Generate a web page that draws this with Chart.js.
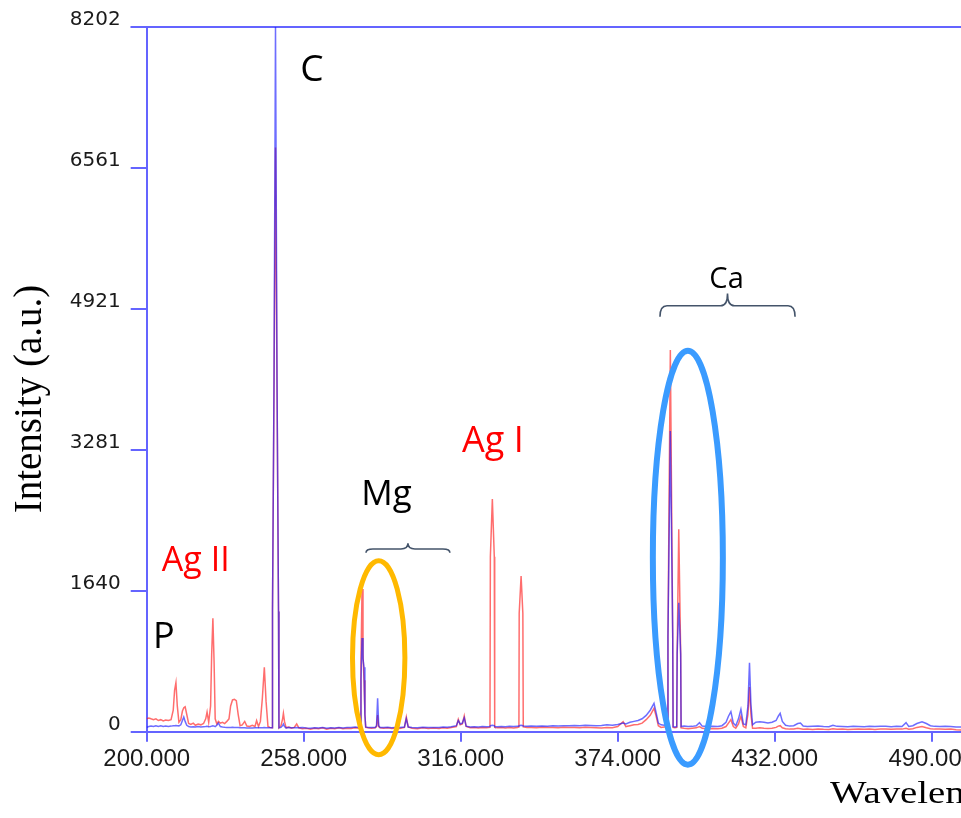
<!DOCTYPE html>
<html>
<head>
<meta charset="utf-8">
<script src="https://cdn.jsdelivr.net/npm/chart.js@4.4.0/dist/chart.umd.min.js"></script>
<style>
  html, body { margin: 0; padding: 0; background: #ffffff; }
  #wrap { width: 961px; height: 818px; position: relative; overflow: hidden; }
</style>
</head>
<body>
<div id="wrap"><canvas id="c" width="961" height="818"></canvas></div>
<script>
// ---------- data ----------
const wavelengthNm = [
  200.0,200.8,201.6,202.5,203.4,204.3,205.2,206.1,207.0,208.0,209.0,209.8,210.3,210.8,211.3,211.9,
  212.6,213.2,213.7,214.2,214.8,215.5,216.3,217.2,218.0,219.0,220.0,221.0,221.8,222.3,222.9,223.6,
  224.0,224.45,224.9,225.3,225.9,226.5,227.2,228.0,228.8,229.6,230.4,231.0,231.7,232.4,233.1,233.8,
  234.5,235.3,236.2,237.0,238.0,239.0,240.0,240.6,241.3,242.0,242.7,243.45,244.1,244.8,245.5,246.3,
  246.47,247.03,247.58,248.14,248.69,248.85,249.6,250.2,250.5,250.9,251.5,252.5,253.5,254.5,255.4,256.2,
  257.5,259.0,260.5,262.0,263.5,265.0,266.5,268.0,269.5,271.0,272.5,274.0,275.5,277.0,278.3,278.8,
  279.15,279.55,279.9,280.27,280.6,280.9,281.8,283.0,284.4,284.9,285.3,285.7,286.2,287.5,289.0,290.5,
  292.0,293.5,295.2,295.9,296.6,298.0,300.0,302.0,304.0,306.0,308.0,309.5,311.0,312.5,314.4,315.1,
  315.8,316.6,317.3,318.0,319.5,321.0,322.5,324.0,325.5,326.8,326.95,327.68,328.4,328.55,329.5,331.0,
  332.5,334.0,335.5,337.0,337.5,337.6,338.3,338.95,339.1,340.5,342.0,344.0,346.0,348.0,350.0,352.0,
  354.0,356.0,358.0,360.0,362.0,364.0,366.0,368.0,370.0,372.0,374.0,376.0,377.0,378.5,380.0,381.5,
  383.0,384.5,386.0,387.4,388.2,389.0,390.0,391.2,392.3,392.55,393.43,394.3,394.45,395.1,395.8,395.95,
  396.54,397.25,397.4,398.5,400.0,401.5,403.0,404.2,405.2,407.0,409.0,411.0,412.5,414.0,414.9,415.8,
  416.7,417.6,418.6,419.5,420.4,421.3,422.1,422.67,423.2,423.8,425.0,426.5,428.0,429.5,431.0,432.5,
  433.3,434.0,434.8,436.0,437.5,439.0,440.5,441.5,442.5,444.0,446.0,448.0,450.0,452.0,453.5,455.0,
  457.0,459.0,461.0,463.0,465.0,467.0,469.0,471.0,473.0,475.0,477.0,479.0,480.5,481.5,483.0,484.5,
  486.4,488.0,489.5,491.0,493.0,495.0,497.0,499.0,500.8
];
const redIntensity = [
  150,160,150,140,150,130,140,125,135,130,140,250,480,570,300,110,
  140,240,280,290,200,95,85,100,75,90,80,95,150,230,110,300,
  900,1320,800,150,90,120,100,110,95,120,150,300,370,377,360,200,
  70,80,120,65,60,75,60,128,60,120,380,750,350,60,50,45,
  1400,4000,6800,4000,1400,45,70,150,214,120,45,55,40,50,90,45,
  35,40,30,40,35,45,30,40,35,45,35,40,38,45,40,60,
  800,1660,900,600,200,50,45,40,45,60,194,60,45,40,45,38,
  42,38,50,170,55,40,35,45,38,42,36,45,40,50,60,144,
  80,90,183,60,45,48,42,50,45,50,2036,2709,2036,50,45,50,
  42,48,44,50,55,1378,1812,1378,55,48,50,45,52,48,50,46,
  52,48,50,45,52,48,45,42,50,45,60,116,60,70,80,85,
  100,140,190,272,180,70,50,55,60,1100,4443,1150,50,45,50,900,
  2356,900,45,40,35,40,45,60,40,35,38,35,40,60,100,140,
  60,40,90,180,60,45,200,520,200,40,40,45,40,38,40,50,
  65,70,45,35,30,32,40,35,28,30,25,32,28,26,35,28,
  30,25,28,32,28,30,26,32,30,28,32,30,40,30,35,50,
  60,45,35,30,32,28,30,22,20
];
const blueIntensity = [
  50,60,65,60,70,62,68,60,66,62,65,70,70,72,70,68,
  80,130,170,120,75,60,55,58,55,60,55,58,60,62,58,60,
  65,70,65,60,75,100,60,55,52,50,50,50,52,50,50,48,
  45,45,45,44,44,44,45,45,45,46,46,48,47,45,45,45,
  1400,4100,8202,4100,1400,45,50,70,90,60,45,50,45,45,50,45,
  48,42,40,45,42,48,40,46,42,50,44,48,50,55,50,60,
  600,1090,850,750,200,55,50,48,50,70,389,70,50,48,52,46,
  50,48,55,150,55,48,45,52,50,48,50,55,52,58,70,130,
  90,100,160,65,55,58,55,60,58,60,70,75,70,62,58,60,
  58,62,60,64,64,70,75,70,65,62,65,62,66,64,68,65,
  70,68,72,70,75,72,70,72,80,75,85,100,90,110,120,130,
  150,190,250,330,220,100,80,75,80,1100,3500,1150,60,55,60,900,
  1500,900,60,65,60,62,70,105,65,60,62,60,70,110,180,233,
  100,70,150,260,90,80,300,803,320,80,110,115,110,100,110,130,
  180,214,120,75,65,70,95,100,65,60,62,65,60,58,75,62,
  60,58,62,60,58,62,60,64,62,58,62,60,105,62,70,95,
  116,95,70,62,60,62,60,56,55
];
const xTickValues = [200, 258, 316, 374, 432, 490];
const yTickValues = [0, 1640.4, 3280.8, 4921.2, 6561.6, 8202];
const yTickLabels = ['0', '1640', '3281', '4921', '6561', '8202'];
const xRange = [200, 500.8];
const yRange = [0, 8202];

// annotation texts placed in data coordinates
const annotationTexts = [
  { text: 'C',     nm: 256.7, value: 7570, color: '#000000', size: 37 },
  { text: 'P',     nm: 202.3, value: 974,  color: '#000000', size: 36 },
  { text: 'Ag II', nm: 205.6, value: 1873, color: '#ff0000', size: 34 },
  { text: 'Mg',    nm: 279.3, value: 2637, color: '#000000', size: 35 },
  { text: 'Ag I',  nm: 316.5, value: 3257, color: '#ff0000', size: 36 },
  { text: 'Ca',    nm: 414.2, value: 5162, color: '#000000', size: 29, center: true }
];
const braces = [
  { from: 281.0, to: 312.0, endValue: 2083, lineValue: 2126, tipValue: 2192 },
  { from: 389.6, to: 439.5, endValue: 4829, lineValue: 4957, tipValue: 5101 }
];
const ellipses = [
  { nm: 285.7, value: 861,  rNm: 9.68,  rValue: 1129, color: '#FFB900', width: 5 },
  { nm: 399.9, value: 2025, rNm: 12.93, rValue: 2409, color: '#3A9BFF', width: 6 }
];

// ---------- styles ----------
const axisColor = '#6464ff';

const decorPlugin = {
  id: 'decor',
  beforeDatasetsDraw(chart) {
    const { ctx, chartArea } = chart;
    ctx.save();
    ctx.strokeStyle = axisColor;
    ctx.lineWidth = 2;
    ctx.beginPath();
    ctx.moveTo(chartArea.left - 16, chartArea.top);
    ctx.lineTo(chart.width, chartArea.top);
    ctx.stroke();
    ctx.restore();
  },
  afterDatasetsDraw(chart) {
    const { ctx, scales: { x, y } } = chart;
    ctx.save();
    // braces
    ctx.strokeStyle = '#44546A';
    ctx.lineWidth = 1.6;
    braces.forEach(b => {
      const x0 = x.getPixelForValue(b.from), x1 = x.getPixelForValue(b.to);
      const xm = (x0 + x1) / 2;
      const ye = y.getPixelForValue(b.endValue), yl = y.getPixelForValue(b.lineValue), yt = y.getPixelForValue(b.tipValue);
      const r = 7;
      ctx.beginPath();
      ctx.moveTo(x0, ye);
      ctx.quadraticCurveTo(x0, yl, x0 + r, yl);
      ctx.lineTo(xm - r, yl);
      ctx.quadraticCurveTo(xm, yl, xm, yt);
      ctx.quadraticCurveTo(xm, yl, xm + r, yl);
      ctx.lineTo(x1 - r, yl);
      ctx.quadraticCurveTo(x1, yl, x1, ye);
      ctx.stroke();
    });
    // ellipses
    ellipses.forEach(e => {
      const cx = x.getPixelForValue(e.nm), cy = y.getPixelForValue(e.value);
      const rx = Math.abs(x.getPixelForValue(e.nm + e.rNm) - cx);
      const ry = Math.abs(y.getPixelForValue(e.value + e.rValue) - cy);
      ctx.strokeStyle = e.color;
      ctx.lineWidth = e.width;
      ctx.beginPath();
      ctx.ellipse(cx, cy, rx, ry, 0, 0, Math.PI * 2);
      ctx.stroke();
    });
    // labels
    ctx.textBaseline = 'alphabetic';
    annotationTexts.forEach(t => {
      ctx.font = t.size + 'px "Open Sans"';
      ctx.fillStyle = t.color;
      ctx.textAlign = t.center ? 'center' : 'left';
      ctx.fillText(t.text, x.getPixelForValue(t.nm), y.getPixelForValue(t.value));
    });
    // axis titles
    ctx.fillStyle = '#000000';
    ctx.save();
    ctx.translate(830, 803);
    ctx.scale(1.25, 1);
    ctx.font = '31px "Liberation Serif", "Times New Roman", serif';
    ctx.textAlign = 'left';
    ctx.fillText('Wavelength (nm)', 0, 0);
    ctx.restore();
    ctx.save();
    ctx.translate(31, 399);
    ctx.rotate(-Math.PI / 2);
    ctx.font = '39px "Liberation Serif", "Times New Roman", serif';
    ctx.textAlign = 'center';
    ctx.textBaseline = 'middle';
    ctx.fillText('Intensity (a.u.)', 0, 0);
    ctx.restore();
    ctx.restore();
  }
};

const toPoints = arr => wavelengthNm.map((w, i) => ({ x: w, y: arr[i] }));

new Chart(document.getElementById('c'), {
  type: 'line',
  data: {
    datasets: [
      { label: 'blue', data: toPoints(blueIntensity), borderColor: 'rgba(20,20,255,0.62)', borderWidth: 1.5, pointRadius: 0, tension: 0, fill: false },
      { label: 'red',  data: toPoints(redIntensity),  borderColor: 'rgba(255,20,20,0.62)', borderWidth: 1.5, pointRadius: 0, tension: 0, fill: false }
    ]
  },
  options: {
    responsive: false,
    devicePixelRatio: 1,
    animation: false,
    layout: { padding: { top: 27, left: 0, right: 0, bottom: 0 } },
    plugins: { legend: { display: false }, tooltip: { enabled: false } },
    scales: {
      x: {
        type: 'linear',
        position: 'bottom',
        min: xRange[0], max: xRange[1],
        afterBuildTicks: s => { s.ticks = xTickValues.map(v => ({ value: v })); },
        afterFit: s => { s.height = 818 - 731.7; s.paddingLeft = 0; s.paddingRight = 0; },
        ticks: {
          autoSkip: false, maxRotation: 0,
          padding: 3,
          color: '#1a1a1a',
          font: { family: '"Liberation Sans", Arial, sans-serif', size: 24 },
          callback: v => Number(v).toFixed(3)
        },
        grid: { drawOnChartArea: false, drawTicks: true, tickLength: 10, color: axisColor, lineWidth: 2 },
        border: { display: true, color: axisColor, width: 2 }
      },
      y: {
        type: 'linear',
        position: 'left',
        min: yRange[0], max: yRange[1],
        afterBuildTicks: s => { s.ticks = yTickValues.map(v => ({ value: v })); },
        afterFit: s => { s.width = 146.7; s.paddingTop = 0; s.paddingBottom = 0; },
        ticks: {
          autoSkip: false,
          padding: 10,
          labelOffset: -7,
          color: '#1a1a1a',
          font: { family: '"DejaVu Sans", sans-serif', size: 20 },
          callback: (v, i) => yTickLabels[i]
        },
        grid: { drawOnChartArea: false, drawTicks: true, tickLength: 16, color: axisColor, lineWidth: 2 },
        border: { display: true, color: axisColor, width: 2 }
      }
    }
  },
  plugins: [decorPlugin]
});
</script>
</body>
</html>
